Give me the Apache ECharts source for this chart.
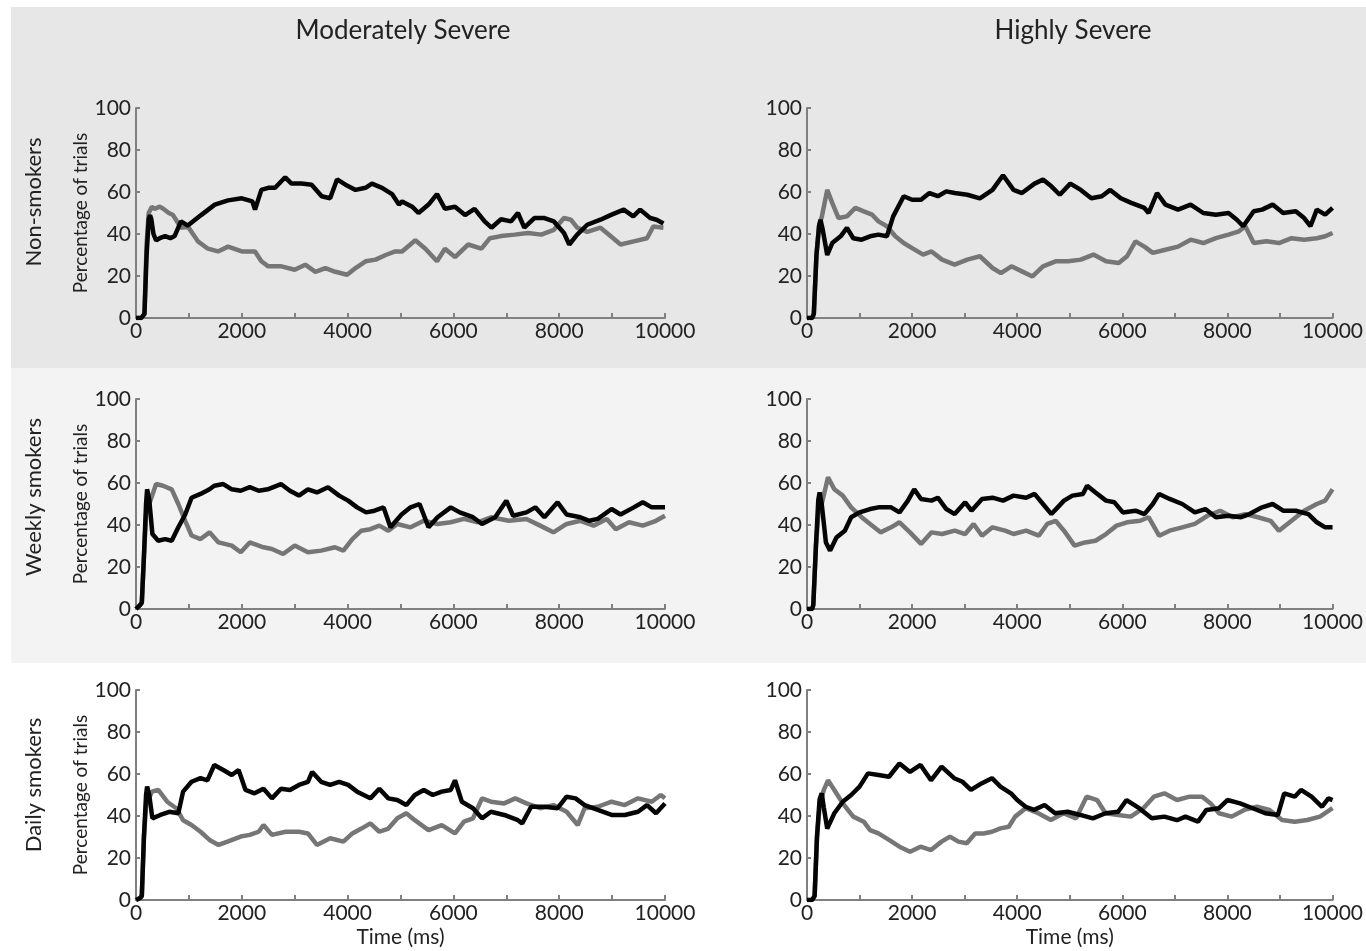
<!DOCTYPE html>
<html>
<head>
<meta charset="utf-8">
<script src="https://cdn.jsdelivr.net/npm/echarts@6/dist/echarts.min.js"></script>
<style>
html,body{margin:0;padding:0;background:#fff;}
#chart{width:1366px;height:951px;}
</style>
</head>
<body>
<div id="chart"></div>
<script>
// Column / row labels
const columnTitles = ['Moderately Severe', 'Highly Severe'];
const rowLabels = ['Non-smokers', 'Weekly smokers', 'Daily smokers'];
const yTicks = [0, 20, 40, 60, 80, 100];
const xTickLabels = [0, 2000, 4000, 6000, 8000, 10000];

// Series: [time (ms), percentage of trials]
const nonModBlack = [[0,0],[100,0],[160,2],[200,30],[240,47],[265,49],[290,47],[330,40],[380,37],[450,38],[550,39],[650,38],[730,39],[850,46],[980,44],[1230,49],[1490,54],[1740,56],[2000,57],[2200,55.5],[2250,51.6],[2370,61],[2500,62],[2630,62],[2820,67],[2940,64],[3130,64],[3320,63.5],[3510,58],[3670,57],[3800,66],[3960,63.5],[4150,61],[4340,62],[4460,64],[4650,62],[4840,59],[4970,54],[5030,55.5],[5220,53],[5340,50],[5530,54],[5690,59],[5840,52],[6030,53],[6220,49],[6400,52],[6590,46],[6720,43],[6900,47],[7090,46],[7220,50],[7340,43],[7530,47.6],[7720,47.6],[7900,46],[8090,40.5],[8190,35],[8340,39.7],[8530,44.4],[8780,46.8],[8970,49],[9220,51.6],[9400,48.4],[9530,51.6],[9720,47.6],[9840,46.8],[9970,45]];
const nonModGray = [[0,0],[100,0],[160,2],[200,35],[240,50],[300,53],[350,52],[450,53],[540,51.6],[620,50],[700,49],[850,43],[980,43.6],[1170,36.5],[1360,33],[1550,31.7],[1740,34],[2000,31.7],[2250,31.7],[2370,27],[2500,24.6],[2750,24.6],[3000,23],[3200,25.4],[3390,22],[3580,23.8],[3770,22],[3990,20.6],[4150,23.8],[4340,27],[4530,27.8],[4720,30],[4900,31.7],[5030,31.7],[5280,37],[5470,33],[5690,27],[5840,33],[6030,29],[6280,35],[6530,33],[6690,38],[6900,39],[7160,39.7],[7410,40.5],[7660,39.7],[7900,42],[8090,47.6],[8220,46.8],[8340,43],[8530,41],[8780,43],[8970,39],[9160,35],[9410,36.5],[9660,38],[9780,43.6],[9970,43]];
const nonHighBlack = [[0,0],[100,0],[130,2],[180,30],[230,44],[257,46.8],[300,42],[385,30],[480,35.7],[640,38.9],[760,42.9],[880,38],[1040,37.3],[1200,38.9],[1360,39.7],[1520,38.9],[1640,48.4],[1840,58],[2000,56.3],[2170,56.3],[2330,59.5],[2490,58],[2650,60.3],[2810,59.5],[3050,58.7],[3290,57],[3530,61],[3730,68],[3930,61],[4090,59.5],[4330,64],[4490,65.9],[4650,62.7],[4810,58.7],[5010,64],[5210,61],[5410,57],[5610,58],[5770,61],[5970,57],[6170,54.8],[6420,52.4],[6500,50],[6660,59.5],[6820,54],[7060,51.6],[7300,54],[7540,50],[7780,49.2],[8020,50],[8180,46.8],[8300,43.7],[8500,50.8],[8660,51.6],[8860,54],[9060,50],[9300,50.8],[9460,47.6],[9580,43.7],[9700,51.6],[9860,49.2],[10000,52.4]];
const nonHighGray = [[0,0],[100,0],[130,2],[180,30],[230,44],[280,48],[385,61],[480,54.8],[600,47.6],[760,48.4],[920,52.4],[1080,50.8],[1240,49.2],[1360,46],[1520,43.7],[1680,38.9],[1840,35.7],[2000,33.3],[2210,30.2],[2370,31.7],[2570,27.8],[2810,25.4],[3050,27.8],[3290,29.4],[3530,23.8],[3690,21.4],[3890,24.6],[4090,22.2],[4290,19.8],[4490,24.6],[4730,27],[4970,27],[5210,27.8],[5450,30.2],[5690,27],[5930,26.2],[6090,29.4],[6250,36.5],[6420,34],[6580,31],[6820,32.5],[7060,34],[7300,37.3],[7540,35.7],[7780,38],[8020,39.7],[8220,41.3],[8340,43.7],[8500,35.7],[8740,36.5],[8980,35.7],[9220,38],[9460,37.3],[9700,38],[9860,38.9],[10000,40.5]];
const weekModBlack = [[0,0],[80,2],[110,3],[150,25],[190,50],[210,57],[250,52],[310,35.7],[420,32.5],[550,33.3],[675,32.5],[800,38.9],[930,45],[1050,53],[1220,54.8],[1390,57],[1480,58.7],[1650,59.5],[1810,57],[1980,56.3],[2150,58],[2320,56.3],[2490,57],[2740,59.5],[2910,56.3],[3080,54],[3250,57],[3420,55.5],[3630,58],[3840,54],[4010,51.6],[4180,48.4],[4350,46],[4510,46.8],[4680,48.4],[4810,38.9],[5020,45],[5190,48.4],[5360,50],[5530,38.9],[5700,43.7],[5950,48.4],[6120,46],[6370,43.7],[6540,40.5],[6790,43.7],[7000,51.6],[7130,44.4],[7380,46],[7550,48.4],[7720,43.7],[7970,50.8],[8140,45],[8400,43.7],[8570,42],[8730,42.9],[8990,47.6],[9160,45],[9410,48.4],[9580,50.8],[9750,48.4],[10000,48.4]];
const weekModGray = [[0,0],[80,2],[110,3],[150,25],[190,45],[250,50],[380,59.5],[510,58.7],[675,57],[800,50],[930,42],[1050,35],[1220,33.3],[1390,36.5],[1560,31.7],[1810,30.2],[1980,27],[2150,31.7],[2410,29.4],[2570,28.6],[2780,26.2],[3000,30.2],[3250,27],[3500,27.8],[3760,29.4],[3920,27.8],[4090,33.3],[4260,37.3],[4430,38],[4600,39.7],[4770,37.3],[4940,40.5],[5190,38.9],[5440,42],[5700,40.5],[5950,41.3],[6200,42.9],[6460,41.3],[6710,43.7],[7050,42],[7380,42.9],[7640,39.7],[7890,36.5],[8140,40.5],[8400,42],[8650,39.7],[8900,42.9],[9070,38],[9320,41.3],[9580,39.7],[9830,42],[10000,44.4]];
const weekHighBlack = [[0,0],[100,0],[120,2],[170,30],[215,52],[240,55.5],[280,50],[360,31.7],[440,27.8],[560,34],[720,37.3],[840,43.7],[1000,46],[1200,47.6],[1360,48.4],[1600,48.4],[1760,46],[1920,51.6],[2040,57],[2170,52.4],[2370,51.6],[2490,53],[2650,47.6],[2810,45.2],[3010,50.8],[3130,46.8],[3330,52.4],[3530,53],[3730,51.6],[3930,54],[4170,53],[4330,54.8],[4490,50],[4650,45.2],[4770,48.4],[4890,51.6],[5050,54],[5250,54.8],[5330,58.7],[5490,55.5],[5690,51.6],[5850,50.8],[6010,46],[6250,46.8],[6420,45.2],[6580,50],[6700,54.8],[6900,52.4],[7140,50],[7380,46],[7580,47.6],[7780,43.7],[8020,44.4],[8260,43.7],[8420,45.2],[8660,48.4],[8860,50],[9060,46.8],[9300,46.8],[9540,45.2],[9700,41.3],[9860,38.9],[10000,38.9]];
const weekHighGray = [[0,0],[100,0],[120,2],[170,30],[215,45],[280,50],[400,62.7],[520,57],[680,54],[840,48.4],[1040,43.7],[1200,40.5],[1400,36.5],[1600,38.9],[1760,41.3],[1960,36.5],[2170,31],[2370,36.5],[2570,35.7],[2810,37.3],[3010,35.7],[3170,40.5],[3330,34.9],[3530,38.9],[3770,37.3],[3930,35.7],[4170,37.3],[4410,34.9],[4570,40.5],[4730,42],[4890,37.3],[5090,30.2],[5290,31.7],[5490,32.5],[5690,35.7],[5890,39.7],[6090,41.3],[6340,42],[6500,43.7],[6700,34.9],[6900,37.3],[7140,38.9],[7380,40.5],[7620,44.4],[7860,46.8],[8100,43.7],[8340,45.2],[8580,43.7],[8820,42],[8980,37.3],[9220,42],[9460,46.8],[9700,50],[9860,51.6],[10000,57]];
const dailyModBlack = [[0,0],[80,1],[110,2],[150,30],[190,50],[210,54],[250,50],[310,38.9],[460,40.5],[630,42],[800,41.3],[890,51.6],[1050,56.3],[1220,58],[1350,57],[1480,64.3],[1650,61.9],[1810,59.5],[1940,61.9],[2070,52.4],[2240,50.8],[2410,53],[2570,48.4],[2740,53],[2910,52.4],[3080,54.8],[3250,56.3],[3330,61],[3500,56.3],[3670,54.8],[3840,56.3],[4010,54.8],[4180,51.6],[4430,48.4],[4600,53],[4770,48.4],[4940,47.6],[5110,45.2],[5270,50],[5440,52.4],[5610,50],[5780,51.6],[5950,52.4],[6030,57],[6160,46.8],[6370,43.7],[6540,38.9],[6710,42],[6960,40.5],[7220,38],[7300,36.5],[7470,44.4],[7720,44.4],[7970,43.7],[8140,49.2],[8310,48.4],[8480,45.2],[8730,42.9],[8990,40.5],[9240,40.5],[9490,42],[9660,45.2],[9830,41.3],[10000,46]];
const dailyModGray = [[0,0],[80,1],[110,2],[150,30],[190,45],[300,51.6],[420,52.4],[590,46.8],[760,43.7],[890,38],[1050,35.7],[1220,32.5],[1390,28.6],[1560,26.2],[1730,27.8],[1980,30.2],[2150,31],[2320,32.5],[2410,35.7],[2570,31],[2830,32.5],[3080,32.5],[3250,31.7],[3420,26.2],[3670,29.4],[3920,27.8],[4090,31.7],[4260,34],[4430,36.5],[4600,32.5],[4770,34],[4940,38.9],[5110,41.3],[5270,38],[5530,33.3],[5780,35.7],[6030,31.7],[6200,37.3],[6370,38.9],[6540,48.4],[6710,46.8],[6960,46],[7170,48.4],[7380,46],[7640,43.7],[7890,45.2],[8140,42],[8350,35.7],[8480,43.7],[8730,44.4],[8990,46.8],[9240,45.2],[9490,48.4],[9750,46.8],[9920,50],[10000,48.4]];
const dailyHighBlack = [[0,0],[100,0],[145,2],[190,30],[240,48],[280,50.8],[320,44],[385,34],[520,41.3],[680,46.8],[840,50],[1000,54],[1160,60.3],[1360,59.5],[1560,58.7],[1760,65],[1960,61],[2160,64.3],[2360,57],[2560,63.5],[2800,58],[2960,56.3],[3120,52.4],[3320,55.5],[3520,58],[3680,54],[3880,50.8],[4000,47.6],[4160,44.4],[4320,42.9],[4520,45.2],[4720,41.3],[4960,42],[5200,40.5],[5440,38.9],[5680,41.3],[5920,42],[6080,47.6],[6320,43.7],[6560,38.9],[6800,39.7],[7040,38],[7200,39.7],[7440,37.3],[7600,42.9],[7840,43.7],[8000,47.6],[8240,46],[8480,43.7],[8720,41.3],[8960,40.5],[9080,50.8],[9280,49.2],[9400,52.4],[9600,49.2],[9800,44.4],[9920,48.4],[10000,47.6]];
const dailyHighGray = [[0,0],[100,0],[145,2],[190,30],[240,45],[320,52.4],[400,57],[520,52.4],[680,46],[880,39.7],[1080,37.3],[1200,33.3],[1360,31.7],[1560,28.6],[1760,25.4],[1960,23],[2160,25.4],[2360,23.8],[2560,27.8],[2720,30.2],[2880,27.8],[3040,27],[3200,31.7],[3360,31.7],[3520,32.5],[3680,34.1],[3840,34.9],[3960,39.7],[4160,43.7],[4400,41.3],[4640,38.1],[4880,41.3],[5120,38.9],[5320,49.2],[5520,47.6],[5680,41.3],[5920,40.5],[6160,39.7],[6400,43.7],[6600,49.2],[6800,50.8],[7040,47.6],[7280,49.2],[7520,49.2],[7680,46],[7840,41.3],[8080,39.7],[8320,42.9],[8560,44.4],[8800,42.9],[9040,38.1],[9280,37.3],[9520,38.1],[9760,39.7],[10000,43.7]];

const panelBlack = [nonModBlack, nonHighBlack, weekModBlack, weekHighBlack, dailyModBlack, dailyHighBlack];
const panelGray = [nonModGray, nonHighGray, weekModGray, weekHighGray, dailyModGray, dailyHighGray];

const FONT = 'Lato';
const chart = echarts.init(document.getElementById('chart'), null, {renderer: 'canvas'});

const colLeft = [136, 807];
const colWidth = [529, 532];
const rowTop = [108, 399, 690];
const rowHeight = 210;

const grids = [], xAxes = [], yAxes = [], series = [];
for (let r = 0; r < 3; r++) {
  for (let c = 0; c < 2; c++) {
    const i = r * 2 + c;
    grids.push({left: colLeft[c], top: rowTop[r], width: colWidth[c], height: rowHeight, containLabel: false});
    xAxes.push({
      type: 'value', gridIndex: i, min: 0, max: 10000, interval: 1000,
      name: r === 2 ? 'Time (ms)' : '', nameLocation: 'middle', nameGap: 27,
      nameTextStyle: {fontFamily: FONT, fontSize: 21, color: '#222'},
      axisLine: {show: true, onZero: false, lineStyle: {color: '#808080', width: 2}},
      axisTick: {show: true, inside: true, length: 5, lineStyle: {color: '#808080', width: 2}},
      axisLabel: {margin: 3, fontFamily: FONT, fontSize: 21, color: '#222',
        formatter: v => (xTickLabels.indexOf(v) >= 0 ? String(v) : '')},
      splitLine: {show: false}
    });
    yAxes.push({
      type: 'value', gridIndex: i, min: 0, max: 100, interval: 20,
      name: c === 0 ? 'Percentage of trials' : '', nameLocation: 'middle', nameGap: 36, nameRotate: 90,
      nameTextStyle: {fontFamily: FONT, fontSize: 19, color: '#222'},
      axisLine: {show: true, lineStyle: {color: '#808080', width: 2}},
      axisTick: {show: true, inside: true, length: 4, lineStyle: {color: '#808080', width: 2}},
      axisLabel: {margin: 5, fontFamily: FONT, fontSize: 21, color: '#222',
        formatter: v => (yTicks.indexOf(v) >= 0 ? String(v) : '')},
      splitLine: {show: false}
    });
    series.push({
      type: 'line', xAxisIndex: i, yAxisIndex: i, data: panelGray[i],
      showSymbol: false, symbol: 'none', z: 2,
      lineStyle: {color: '#767676', width: 4.5}
    });
    series.push({
      type: 'line', xAxisIndex: i, yAxisIndex: i, data: panelBlack[i],
      showSymbol: false, symbol: 'none', z: 3,
      lineStyle: {color: '#050505', width: 4.5}
    });
  }
}

const graphics = [
  {type: 'rect', z: -10, silent: true, shape: {x: 11, y: 7, width: 1355, height: 361}, style: {fill: '#e7e7e7'}},
  {type: 'rect', z: -10, silent: true, shape: {x: 11, y: 368, width: 1355, height: 295}, style: {fill: '#f3f3f3'}},
  {type: 'text', x: 403, y: 31, style: {text: columnTitles[0], fontFamily: FONT, fontSize: 26, fill: '#222', align: 'center', verticalAlign: 'middle'}},
  {type: 'text', x: 1073, y: 31, style: {text: columnTitles[1], fontFamily: FONT, fontSize: 26, fill: '#222', align: 'center', verticalAlign: 'middle'}}
];
const rowLabelY = [202, 497, 785];
rowLabels.forEach((t, r) => {
  graphics.push({type: 'text', x: 34, y: rowLabelY[r], rotation: Math.PI / 2,
    style: {text: t, fontFamily: FONT, fontSize: 22, fill: '#222', align: 'center', verticalAlign: 'middle'}});
});

chart.setOption({
  animation: false,
  backgroundColor: '#ffffff',
  grid: grids,
  xAxis: xAxes,
  yAxis: yAxes,
  series: series,
  graphic: graphics
});
</script>
</body>
</html>
